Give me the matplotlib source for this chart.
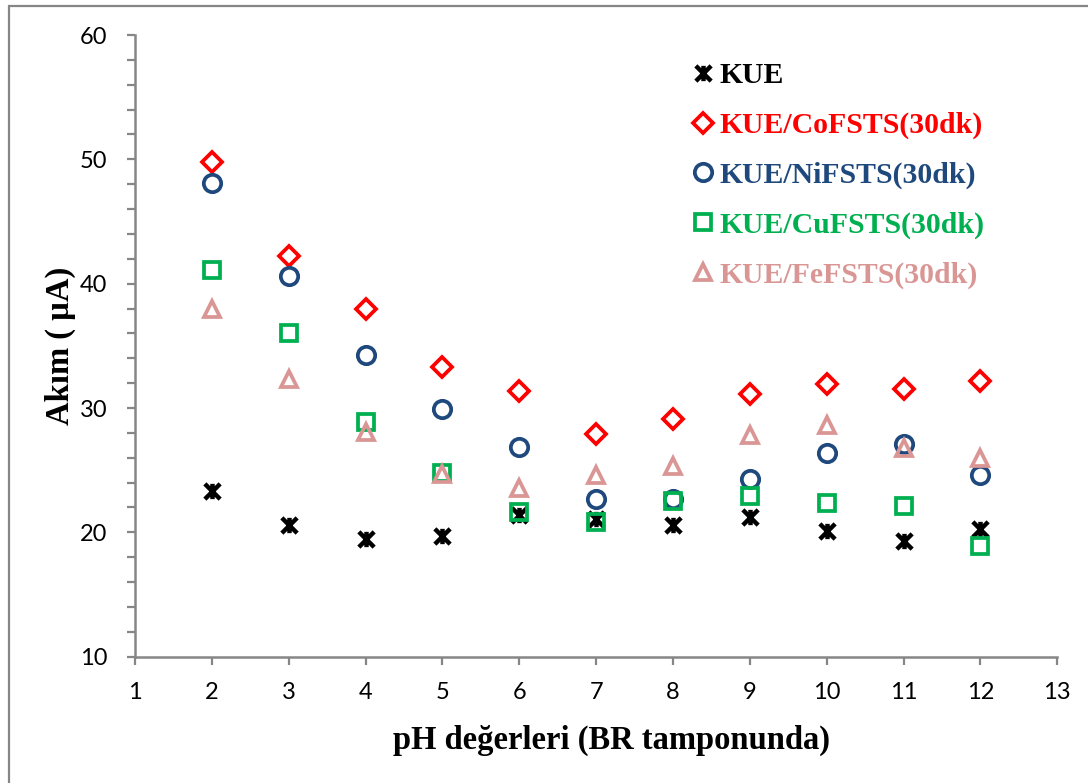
import numpy as np
from matplotlib import pyplot as plt
from matplotlib.path import Path
from matplotlib.patches import Rectangle

ph = [2, 3, 4, 5, 6, 7, 8, 9, 10, 11, 12]

kue = [23.3, 20.6, 19.5, 19.7, 21.4, 21.1, 20.6, 21.2, 20.1, 19.3, 20.3]
kue_co = [49.8, 42.2, 38.0, 33.3, 31.4, 27.9, 29.1, 31.1, 31.9, 31.5, 32.2]
kue_ni = [48.1, 40.6, 34.3, 29.9, 26.9, 22.7, 22.7, 24.3, 26.4, 27.1, 24.6]
kue_cu = [41.1, 36.0, 28.9, 24.8, 21.6, 20.8, 22.5, 22.9, 22.4, 22.1, 18.9]
kue_fe = [38.0, 32.3, 28.1, 24.7, 23.6, 24.6, 25.3, 27.8, 28.6, 26.8, 26.0]

labels = ["KUE", "KUE/CoFSTS(30dk)", "KUE/NiFSTS(30dk)",
          "KUE/CuFSTS(30dk)", "KUE/FeFSTS(30dk)"]
colors = ["black", "#FF0000", "#1F497D", "#00B050", "#D99694"]

GRAY = "#868686"

# asterisk marker: an X with a vertical stroke through it
star = Path([(-1, -1), (1, 1), (-1, 1), (1, -1), (0, -1), (0, 1)],
            [Path.MOVETO, Path.LINETO, Path.MOVETO, Path.LINETO,
             Path.MOVETO, Path.LINETO])

fig = plt.figure(figsize=(10.88, 7.83), dpi=100)
fig.patches.append(Rectangle((9 / 1088, -0.1), 1.2, 1.1 - 6 / 783,
                             transform=fig.transFigure, fill=False,
                             edgecolor=GRAY, linewidth=1.6))
ax = fig.add_axes([0.1241, 0.1613, 0.8477, 0.7940])

series = [kue, kue_co, kue_ni, kue_cu, kue_fe]
markers = [star, "D", "o", "s", "^"]
sizes = [11, 10, 12.5, 11, 12]
handles = []
for vals, lab, col, mk, ms in zip(series, labels, colors, markers, sizes):
    h, = ax.plot(ph, vals, linestyle="none", marker=mk, markersize=ms,
                 markerfacecolor="none", markeredgecolor=col,
                 markeredgewidth=2.7 if mk is not star else 3.2, label=lab)
    handles.append(h)

ax.set_xlim(1, 13)
ax.set_ylim(10, 60)
ax.set_xticks(np.arange(1, 14))
ax.set_yticks(np.arange(10, 61, 10))
ax.set_yticks(np.arange(10, 61, 2), minor=True)

for s in ["top", "right"]:
    ax.spines[s].set_visible(False)
for s in ["left", "bottom"]:
    ax.spines[s].set_color(GRAY)
    ax.spines[s].set_linewidth(1.8)

ax.tick_params(which="both", direction="out", length=6, width=1.6,
               color=GRAY, labelsize=17, pad=14)
ax.tick_params(axis="x", pad=12)
for t in ax.get_xticklabels() + ax.get_yticklabels():
    t.set_family("Lato")

ax.set_xlabel("pH değerleri (BR tamponunda)", family="Liberation Serif",
              fontweight="bold", fontsize=23.5)
ax.xaxis.set_label_coords(0.517, -0.134)
ax.xaxis.label.set_va("center")
ax.set_ylabel("Akım ( µA)", family="Liberation Serif",
              fontweight="bold", fontsize=23.5)
ax.yaxis.set_label_coords(-0.081, 0.5)
ax.yaxis.label.set_va("center")

leg = ax.legend(handles=handles, loc="upper left",
                bbox_to_anchor=(0.603, 0.956), frameon=False,
                prop={"family": "Liberation Serif", "weight": "bold",
                      "size": 21.4},
                handlelength=0.8, handletextpad=0.17, labelspacing=0.76,
                borderaxespad=0, borderpad=0)
for txt, col in zip(leg.get_texts(), colors):
    txt.set_color(col)

fig.savefig("out.png", dpi=100)
